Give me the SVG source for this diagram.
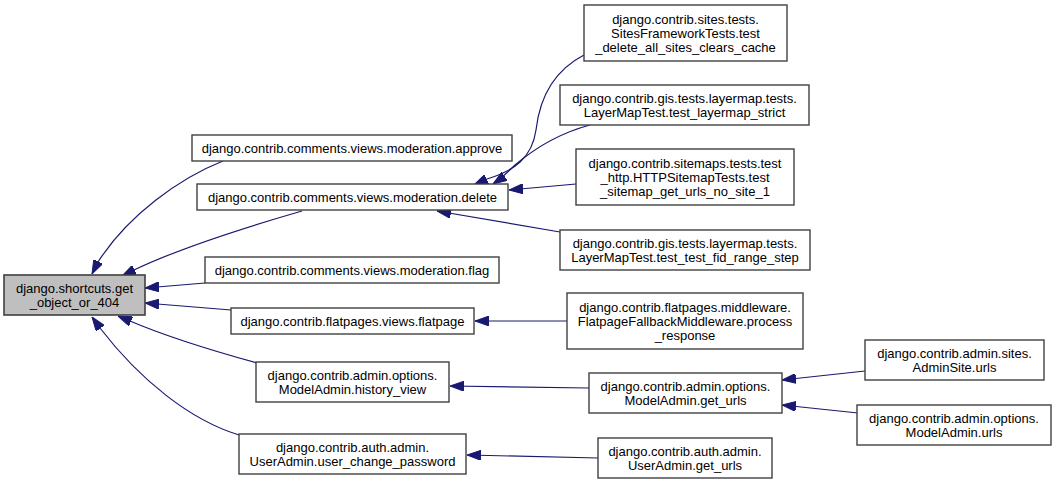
<svg xmlns="http://www.w3.org/2000/svg" width="1056" height="485" viewBox="0 0 1056 485">
<style>
.n rect{fill:#ffffff;stroke:#404040;stroke-width:1.4}
.root rect{fill:#bfbfbf;stroke:#404040;stroke-width:1.6}
text{font-family:"Liberation Sans",Arial,sans-serif;font-size:13px;fill:#000000;text-anchor:middle}
.e path{fill:none;stroke:#191970;stroke-width:1.2;marker-end:url(#ah)}
</style>
<defs>
<marker id="ah" viewBox="0 0 14 10" refX="14" refY="5" markerWidth="14" markerHeight="10" markerUnits="userSpaceOnUse" orient="auto">
<path d="M0,0 L14,5 L0,10 z" fill="#191970" stroke="#191970"/>
</marker>
</defs>
<rect width="1056" height="485" fill="#ffffff"/>
<g id="connectors" class="e">
<path d="M223,161 C180,178 128,215 98,262 L92,274"/>
<path d="M302,211 C250,226 180,248 134,270 L122,276"/>
<path d="M205,283 L145,288"/>
<path d="M231,310 L145,303"/>
<path d="M257,363 C210,350 165,336 130,321 L118,316"/>
<path d="M239,435 C190,420 140,380 100,328 L92,317"/>
<path d="M584,55 C555,70 540,95 536,130 C532,158 514,171 487,179 L474,185"/>
<path d="M590,125 C560,133 535,148 515,165 C508,172 502,178 493,184"/>
<path d="M576,184 L509,190"/>
<path d="M560,232 L437,211"/>
<path d="M567,321 L475,321"/>
<path d="M589,388 L450,386"/>
<path d="M598,458 L467,455"/>
<path d="M865,371 L782,380"/>
<path d="M858,413 L782,405"/>
</g>
<g id="node_get_object_or_404" class="root"><rect x="4" y="275" width="141" height="40"/><text x="74.5" y="293">django.shortcuts.get</text><text x="74.5" y="307">_object_or_404</text></g>
<g id="node_approve" class="n"><rect x="192" y="135" width="320" height="26"/><text x="352" y="152.5">django.contrib.comments.views.moderation.approve</text></g>
<g id="node_delete" class="n"><rect x="197" y="184" width="311" height="26"/><text x="352.5" y="201.5">django.contrib.comments.views.moderation.delete</text></g>
<g id="node_flag" class="n"><rect x="205" y="257" width="294" height="26"/><text x="352" y="274.5">django.contrib.comments.views.moderation.flag</text></g>
<g id="node_flatpage" class="n"><rect x="231" y="308" width="243" height="26"/><text x="352.5" y="325.5">django.contrib.flatpages.views.flatpage</text></g>
<g id="node_history_view" class="n"><rect x="256" y="362" width="193" height="40"/><text x="352.5" y="379.5">django.contrib.admin.options.</text><text x="352.5" y="393.5">ModelAdmin.history_view</text></g>
<g id="node_user_change_password" class="n"><rect x="239" y="434" width="227" height="40"/><text x="352.5" y="451.5">django.contrib.auth.admin.</text><text x="352.5" y="465.5">UserAdmin.user_change_password</text></g>
<g id="node_sites_tests" class="n"><rect x="584" y="5" width="203" height="56"/><text x="685.5" y="23.5">django.contrib.sites.tests.</text><text x="685.5" y="37.5">SitesFrameworkTests.test</text><text x="685.5" y="51.5">_delete_all_sites_clears_cache</text></g>
<g id="node_layermap_strict" class="n"><rect x="560" y="85" width="249" height="40"/><text x="684.5" y="102.5">django.contrib.gis.tests.layermap.tests.</text><text x="684.5" y="116.5">LayerMapTest.test_layermap_strict</text></g>
<g id="node_sitemaps" class="n"><rect x="576" y="149" width="218" height="56"/><text x="685" y="167.5">django.contrib.sitemaps.tests.test</text><text x="685" y="181.5">_http.HTTPSitemapTests.test</text><text x="685" y="195.5">_sitemap_get_urls_no_site_1</text></g>
<g id="node_fid_range" class="n"><rect x="560" y="230" width="250" height="40"/><text x="685" y="247.5">django.contrib.gis.tests.layermap.tests.</text><text x="685" y="261.5">LayerMapTest.test_test_fid_range_step</text></g>
<g id="node_middleware" class="n"><rect x="567" y="293" width="236" height="56"/><text x="685" y="311.5">django.contrib.flatpages.middleware.</text><text x="685" y="325.5">FlatpageFallbackMiddleware.process</text><text x="685" y="339.5">_response</text></g>
<g id="node_get_urls" class="n"><rect x="589" y="373" width="193" height="40"/><text x="685.5" y="390.5">django.contrib.admin.options.</text><text x="685.5" y="404.5">ModelAdmin.get_urls</text></g>
<g id="node_auth_get_urls" class="n"><rect x="598" y="438" width="174" height="40"/><text x="685" y="455.5">django.contrib.auth.admin.</text><text x="685" y="469.5">UserAdmin.get_urls</text></g>
<g id="node_adminsite_urls" class="n"><rect x="865" y="340" width="179" height="40"/><text x="954.5" y="357.5">django.contrib.admin.sites.</text><text x="954.5" y="371.5">AdminSite.urls</text></g>
<g id="node_modeladmin_urls" class="n"><rect x="857" y="405" width="194" height="40"/><text x="954" y="422.5">django.contrib.admin.options.</text><text x="954" y="436.5">ModelAdmin.urls</text></g>
</svg>
